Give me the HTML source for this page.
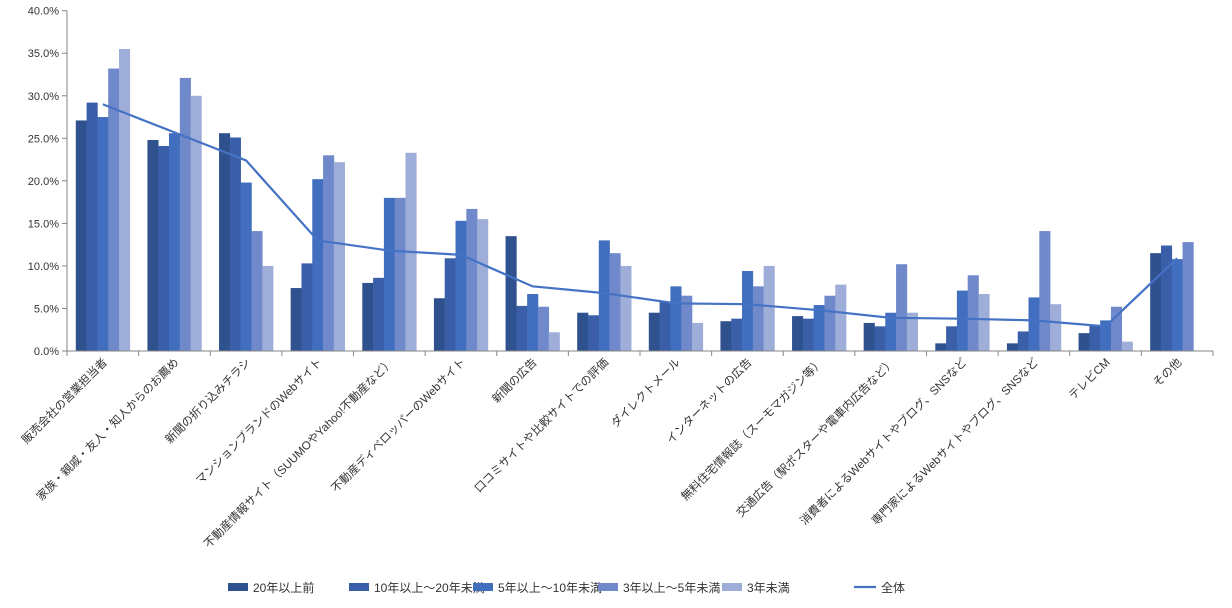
<!DOCTYPE html>
<html><head><meta charset="utf-8"><style>
body{margin:0;background:#fff;}
svg{display:block;font-family:"Liberation Sans","Noto Sans CJK JP",sans-serif;}
</style></head><body>
<svg id="chart" width="1232" height="608" viewBox="0 0 1232 608" xmlns="http://www.w3.org/2000/svg"></svg>
<script>
const categories=["販売会社の営業担当者","家族・親戚・友人・知人からのお薦め","新聞の折り込みチラシ","マンションブランドのWebサイト","不動産情報サイト（SUUMOやYahoo!不動産など）","不動産ディベロッパーのWebサイト","新聞の広告","口コミサイトや比較サイトでの評価","ダイレクトメール","インターネットの広告","無料住宅情報誌（スーモマガジン等）","交通広告（駅ポスターや電車内広告など）","消費者によるWebサイトやブログ、SNSなど","専門家によるWebサイトやブログ、SNSなど","テレビCM","その他"];
const seriesNames=["20年以上前","10年以上～20年未満","5年以上～10年未満","3年以上～5年未満","3年未満"];
const s20plus=[27.1,24.8,25.6,7.4,8.0,6.2,13.5,4.5,4.5,3.5,4.1,3.3,0.9,0.9,2.1,11.5];
const s10to20=[29.2,24.1,25.1,10.3,8.6,10.9,5.3,4.2,5.8,3.8,3.8,2.9,2.9,2.3,3.0,12.4];
const s5to10=[27.5,25.6,19.8,20.2,18.0,15.3,6.7,13.0,7.6,9.4,5.4,4.5,7.1,6.3,3.6,10.8];
const s3to5=[33.2,32.1,14.1,23.0,18.0,16.7,5.2,11.5,6.5,7.6,6.5,10.2,8.9,14.1,5.2,12.8];
const sUnder3=[35.5,30.0,10.0,22.2,23.3,15.5,2.2,10.0,3.3,10.0,7.8,4.5,6.7,5.5,1.1,0];
const total=[29.0,25.7,22.4,13.0,11.8,11.3,7.6,6.8,5.6,5.5,4.8,3.9,3.8,3.6,2.9,10.9];
const yTicks=[0,5,10,15,20,25,30,35,40];
const yTickLabels=["0.0%","5.0%","10.0%","15.0%","20.0%","25.0%","30.0%","35.0%","40.0%"];

const colors=["#2F528F","#3A5FA8","#416EBE","#6F89CA","#9FAED8"];
const svg=document.getElementById('chart');
const NS="http://www.w3.org/2000/svg";
const X0=67,X1=1213,Y0=351,Y40=10.7;
const catW=(X1-X0)/categories.length;
function y(v){return Y0-(v/40)*(Y0-Y40);}
function xc(i){return X0+catW*(i+0.5);}
function mk(tag,attrs){const e=document.createElementNS(NS,tag);for(const k in attrs)e.setAttribute(k,attrs[k]);svg.appendChild(e);return e;}

// y axis
let ax=mk('line',{x1:X0,y1:Y40,x2:X0,y2:Y0,stroke:'#868686','stroke-width':1});


yTicks.forEach((t,i)=>{
  const tk=mk('line',{x1:X0-5,y1:y(t),x2:X0,y2:y(t),stroke:'#868686'});
  
  
  const tx=mk('text',{x:X0-8,y:y(t)+4,'text-anchor':'end','font-size':11,fill:'#333'});
  tx.textContent=yTickLabels[i];
  
  
});
// bars
const series=[s20plus,s10to20,s5to10,s3to5,sUnder3];
const bw=10.8,gOff=8.8;
series.forEach((s,si)=>{
  s.forEach((v,i)=>{
    const bx=X0+catW*i+gOff+si*bw;
    const r=mk('rect',{x:bx,y:y(v),width:bw+0.3,height:Y0-y(v),fill:colors[si]});
    
    
  });
});
// x axis
let xa=mk('line',{x1:X0,y1:Y0,x2:X1,y2:Y0,stroke:'#868686'});


for(let i=0;i<=categories.length;i++){
  const tk=mk('line',{x1:X0+catW*i,y1:Y0,x2:X0+catW*i,y2:Y0+5,stroke:'#868686'});
  
  
}
categories.forEach((c,i)=>{
  const tx=xc(i)+5,ty=363;
  const t=mk('text',{x:tx,y:ty,'text-anchor':'end','font-size':11.5,fill:'#333',transform:`rotate(-45 ${tx} ${ty})`});
  t.textContent=c;
  
  
});
// line
const pts=total.map((v,i)=>xc(i)+','+y(v)).join(' ');
const pl=mk('polyline',{points:pts,fill:'none',stroke:'#4472C4','stroke-width':2.2});


// legend
const legX=[228,349,473,598,722];
seriesNames.forEach((n,i)=>{
  const r=mk('rect',{x:legX[i],y:583,width:20,height:8,fill:colors[i]});
  
  
  const t=mk('text',{x:legX[i]+25,y:592,'font-size':12,fill:'#333'});
  t.textContent=n;
  
  
});
const ll=mk('line',{x1:854,y1:587,x2:876,y2:587,stroke:'#4472C4','stroke-width':2.2});


const lt=mk('text',{x:881,y:592,'font-size':12,fill:'#333'});
lt.textContent="全体";


</script>
</body></html>
